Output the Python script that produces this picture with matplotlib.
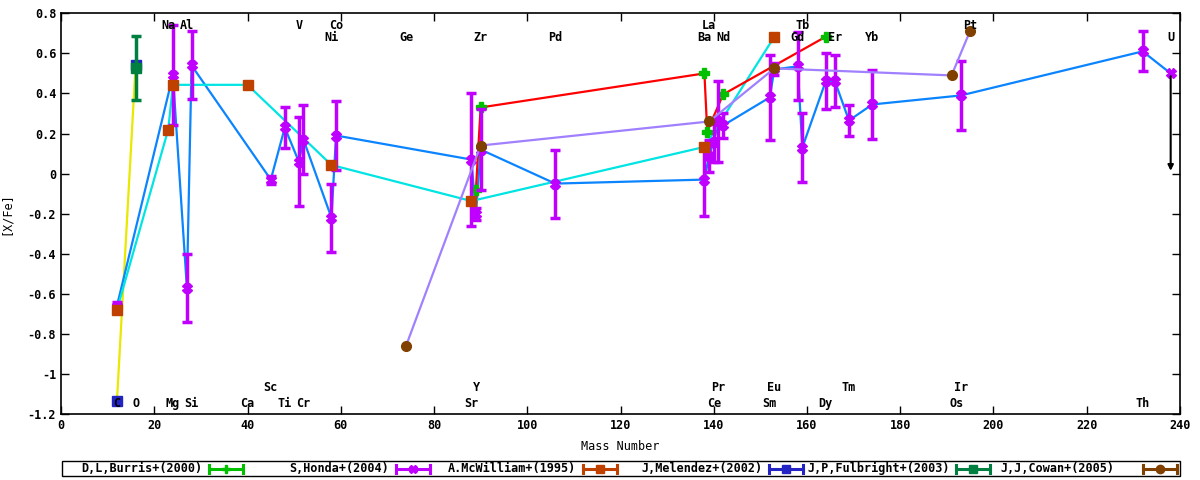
import matplotlib
matplotlib.use('Agg')
import matplotlib.pyplot as plt
from matplotlib.lines import Line2D
from matplotlib.patches import Rectangle

# S.Honda+(2004)
honda_mass = [12, 24, 27, 28, 45, 48, 51, 52, 58, 59, 88, 89, 90, 106,
              138, 139, 140, 141, 142, 152, 153, 158, 159, 164, 166, 169, 174,
              193, 232]
honda_val = [-0.66, 0.49, -0.57, 0.54, -0.03, 0.23, 0.06, 0.17, -0.22, 0.19,
             0.07, -0.20, 0.12, -0.05, -0.03, 0.09, 0.16, 0.26, 0.24, 0.38,
             0.52, 0.535, 0.13, 0.46, 0.46, 0.265, 0.345, 0.39, 0.61]
honda_err = [0.02, 0.25, 0.17, 0.17, 0.02, 0.10, 0.22, 0.17, 0.17, 0.17,
             0.33, 0.03, 0.20, 0.17, 0.18, 0.08, 0.10, 0.20, 0.06, 0.21,
             0.03, 0.17, 0.17, 0.14, 0.13, 0.075, 0.17, 0.17, 0.10]
honda_ul_mass = 238
honda_ul_val = 0.50

# A.McWilliam+(1995)
mcw_mass = [12, 23, 24, 40, 58, 88, 138, 153]
mcw_val = [-0.68, 0.22, 0.443, 0.443, 0.043, -0.137, 0.133, 0.683]

# D.L.Burris+(2000)
burris_mass = [89, 90, 138, 138.6, 142, 164]
burris_val = [-0.08, 0.33, 0.50, 0.21, 0.395, 0.683]

# J.J.Cowan+(2005)
cowan_mass = [74, 90, 139, 153, 191, 195]
cowan_val = [-0.86, 0.14, 0.26, 0.525, 0.49, 0.713]

# J.Melendez+(2002)
mel_mass = [12, 16]
mel_val = [-1.135, 0.54]

# J.P.Fulbright+(2003)
ful_mass = [16]
ful_val = [0.525]
ful_err = [0.16]

# element labels: (name, mass)
top1 = [('Na', 23), ('Al', 27), ('V', 51), ('Co', 59), ('La', 139), ('Tb', 159), ('Pt', 195)]
top2 = [('Ni', 58), ('Ge', 74), ('Zr', 90), ('Pd', 106), ('Ba', 138), ('Nd', 142),
        ('Gd', 158), ('Er', 166), ('Yb', 174), ('U', 238)]
bot1 = [('Sc', 45), ('Y', 89), ('Pr', 141), ('Eu', 153), ('Tm', 169), ('Ir', 193)]
bot2 = [('C', 12), ('O', 16), ('Mg', 24), ('Si', 28), ('Ca', 40), ('Ti', 48), ('Cr', 52),
        ('Sr', 88), ('Ce', 140), ('Sm', 152), ('Dy', 164), ('Os', 192), ('Th', 232)]

names = ['D,L,Burris+(2000)', 'S,Honda+(2004)', 'A.McWilliam+(1995)',
         'J,Melendez+(2002)', 'J,P,Fulbright+(2003)', 'J,J,Cowan+(2005)']
colors = ['#00c000', '#c000ff', '#c04000', '#2424c4', '#008040', '#804000']
markers = ['P', 'X', 's', 's', 's', 'o']

plt.rcParams['font.family'] = ['DejaVu Sans Mono']
plt.rcParams['font.weight'] = 'bold'

W, H = 1200, 480
fig = plt.figure(figsize=(12, 4.8), dpi=100)
ax = fig.add_axes([61 / W, 1 - 414 / H, 1119 / W, 400.7 / H])

# connecting lines
ax.plot(mel_mass, mel_val, color='#e8e800', lw=1.6, zorder=2)
ax.plot(honda_mass + [honda_ul_mass], honda_val + [honda_ul_val], color='#0a84ff', lw=1.6, zorder=2)
ax.plot(mcw_mass, mcw_val, color='#00e4e4', lw=1.6, zorder=2)
ax.plot(burris_mass, burris_val, color='#ff0000', lw=1.6, zorder=2)
ax.plot(cowan_mass, cowan_val, color='#a080ff', lw=1.6, zorder=4)

# data points
ax.plot(burris_mass, burris_val, 'P', color='#00c000', ms=7, zorder=2.5)
ax.errorbar(honda_mass, honda_val, yerr=honda_err, fmt='X', color='#c000ff', ms=7,
            elinewidth=2.5, capsize=3.5, capthick=2.5, zorder=3)
ax.plot([honda_ul_mass], [honda_ul_val], 'X', color='#c000ff', ms=7, zorder=3)
ax.annotate('', xy=(honda_ul_mass, 0.0), xytext=(honda_ul_mass, honda_ul_val),
            arrowprops=dict(arrowstyle='-|>', color='black', lw=1.5, mutation_scale=8), zorder=3)
ax.plot(mcw_mass, mcw_val, 's', color='#c04000', ms=7, zorder=5)
ax.plot(mel_mass, mel_val, 's', color='#2424c4', ms=7.5, zorder=5)
ax.errorbar(ful_mass, ful_val, yerr=ful_err, fmt='s', color='#008040', ms=7.5,
            elinewidth=2.5, capsize=3.5, capthick=2.5, zorder=6)
ax.plot(cowan_mass, cowan_val, 'o', color='#804000', ms=7, zorder=6)

for labels, y in [(top1, 0.737), (top2, 0.677), (bot1, -1.07), (bot2, -1.15)]:
    for name, m in labels:
        ax.text(m, y, name, ha='center', va='center', fontsize=8.5, zorder=7)

ax.set_xlim(0, 240)
ax.set_ylim(-1.2, 0.8)
ax.set_xticks(range(0, 241, 20))
yt = [-1.2, -1.0, -0.8, -0.6, -0.4, -0.2, 0, 0.2, 0.4, 0.6, 0.8]
ax.set_yticks(yt)
ax.set_yticklabels(['-1.2', '-1', '-0.8', '-0.6', '-0.4', '-0.2', '0', '0.2', '0.4', '0.6', '0.8'])
ax.tick_params(direction='in', top=True, right=True, length=6, labelsize=8.5, width=1)
for s in ax.spines.values():
    s.set_linewidth(1.2)
ax.set_xlabel('Mass Number', fontsize=8.5, labelpad=6)
ax.set_ylabel('[X/Fe]', fontsize=8.5)
ax.yaxis.set_label_coords(-0.043, 0.5)

# key box at the bottom, text right-aligned before each sample
fig.add_artist(Rectangle((62 / W, 1 - 476 / H), 1118 / W, 15 / H, transform=fig.transFigure,
                         fill=False, edgecolor='black', lw=1.0))
text_end = [202, 389, 576, 763, 950, 1114]
sample_x = [209, 396, 583, 769, 956, 1143]
yk = 1 - 468.5 / H
for name, c, mk, te, sx in zip(names, colors, markers, text_end, sample_x):
    fig.text(te / W, yk, name, ha='right', va='center', fontsize=8.5)
    x0, x1 = sx / W, (sx + 34) / W
    fig.add_artist(Line2D([x0, x1], [yk, yk], color=c, lw=2.2, transform=fig.transFigure))
    for xe in (x0, x1):
        fig.add_artist(Line2D([xe, xe], [yk - 4 / H, yk + 4 / H], color=c, lw=2.2,
                              transform=fig.transFigure))
    fig.add_artist(Line2D([(x0 + x1) / 2], [yk], color=c, marker=mk, ms=6,
                          transform=fig.transFigure))

fig.savefig('out.png', dpi=100)
